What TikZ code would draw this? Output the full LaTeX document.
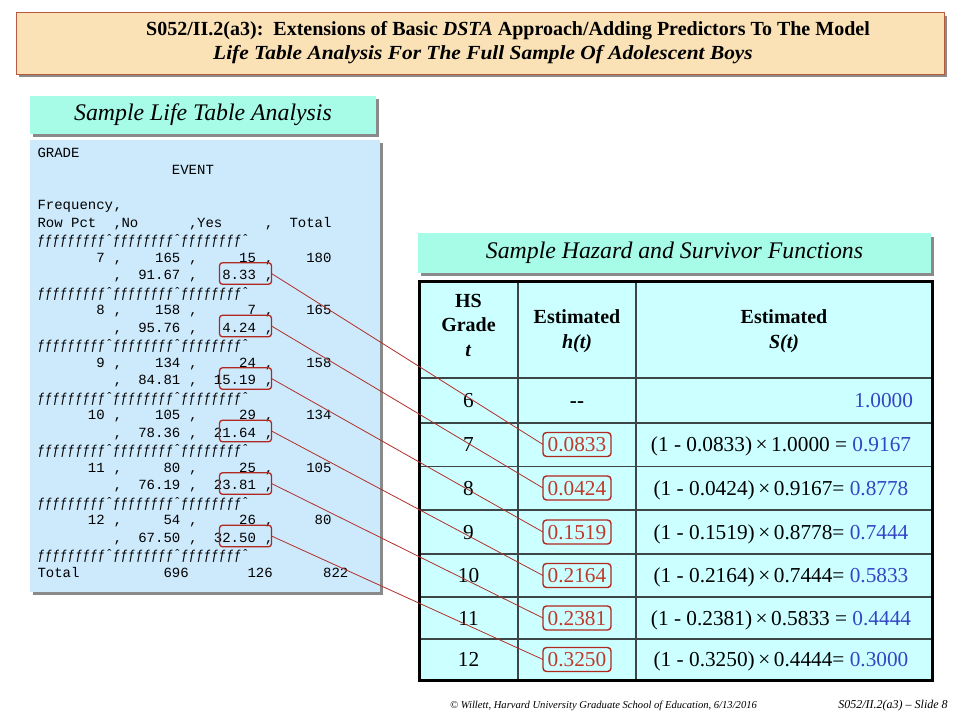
\documentclass[tikz,border=0pt]{standalone}
\usepackage{fontspec}
\setmainfont{Liberation Serif}
\setmonofont{Liberation Mono}
\definecolor{titlefill}{HTML}{FAE2B6}
\definecolor{titleborder}{HTML}{B85A40}
\definecolor{aquafill}{HTML}{A6FCE6}
\definecolor{panelfill}{HTML}{CDE9FC}
\definecolor{tablefill}{HTML}{CCFFFF}
\definecolor{shadowgray}{HTML}{8A8A8A}
\definecolor{hred}{HTML}{C03A2B}
\definecolor{boxred}{HTML}{B0281E}
\definecolor{linkred}{HTML}{B0302A}
\definecolor{sblue}{HTML}{3546C4}
\definecolor{gridgray}{HTML}{3C4646}
\begin{document}
\begin{tikzpicture}[x=1pt,y=-1pt,
  every node/.style={inner sep=0pt, outer sep=0pt},
  sas/.style={anchor=base west, font=\ttfamily\fontsize{14}{17}\selectfont},
  lbox/.style={draw=boxred, line width=1.3pt, rounded corners=3pt, minimum width=52pt, minimum height=21.5pt},
  hbox/.style={draw=boxred, line width=1.4pt, rounded corners=3.5pt, minimum width=68pt, minimum height=24pt, text=hred, font=\fontsize{21.3}{24}\selectfont, text height=14pt, text depth=0pt},
  cell/.style={font=\fontsize{21.3}{24}\selectfont, text height=14pt, text depth=0pt},
  hdr/.style={font=\bfseries\fontsize{20}{24.5}\selectfont, align=center},
  link/.style={draw=linkred, line width=0.8pt},
  gridline/.style={draw=gridgray, line width=1.2pt},
  fline/.style={sas}]
\useasboundingbox (0,0) rectangle (960,720);
\fill[white] (0,0) rectangle (960,720);

% ---- title
\fill[shadowgray] (19,16) rectangle (947,77);
\node[draw=titleborder, fill=titlefill, line width=1pt, minimum width=928pt, minimum height=61.5pt, anchor=north west] (titlebox) at (16,12.5) {};
\node[font=\bfseries\fontsize{20}{24}\selectfont] (title1) at (508,31) {S052/II.2(a3):\ \ Extensions of Basic \textit{DSTA} Approach/Adding Predictors To The Model};
\node[font=\bfseries\itshape\fontsize{20}{24}\selectfont] (title2) at (483,55) {\scalebox{1.07}[1]{Life Table Analysis For The Full Sample Of Adolescent Boys}};

% ---- left heading
\fill[shadowgray] (33,99) rectangle (379,137);
\node[fill=aquafill, minimum width=346pt, minimum height=38pt, anchor=north west] (lhead) at (29.5,95.5) {};
\node[font=\itshape\fontsize{23.8}{28}\selectfont] (lheadtext) at (203,115) {Sample Life Table Analysis};

% ---- left panel
\fill[shadowgray] (33,143) rectangle (383,595);
\node[fill=panelfill, minimum width=350pt, minimum height=452pt, anchor=north west] (panel) at (29.5,139.5) {};

\node[sas] (s0) at (37.5,157) {GRADE};
\node[sas] (s1) at (37.5,174.5) {~~~~~~~~~~~~~~~~EVENT};
\node[sas] (s3) at (37.5,209.5) {Frequency‚};
\node[sas] (s4) at (37.5,227) {Row~Pct~~‚No~~~~~~‚Yes~~~~~‚~~Total};
\node[fline] (s5) at (37.5,244.5) {\scalebox{0.9}[1]{ƒƒƒƒƒƒƒƒƒˆƒƒƒƒƒƒƒƒˆƒƒƒƒƒƒƒƒˆ}};
\node[sas] (s6) at (37.5,262) {~~~~~~~7~‚~~~~165~‚~~~~~15~‚~~~~180};
\node[sas] (s7) at (37.5,279.5) {~~~~~~~~~‚~~91.67~‚~~~8.33~‚};
\node[fline] (s8) at (37.5,297) {\scalebox{0.9}[1]{ƒƒƒƒƒƒƒƒƒˆƒƒƒƒƒƒƒƒˆƒƒƒƒƒƒƒƒˆ}};
\node[sas] (s9) at (37.5,314.5) {~~~~~~~8~‚~~~~158~‚~~~~~~7~‚~~~~165};
\node[sas] (s10) at (37.5,332) {~~~~~~~~~‚~~95.76~‚~~~4.24~‚};
\node[fline] (s11) at (37.5,349.5) {\scalebox{0.9}[1]{ƒƒƒƒƒƒƒƒƒˆƒƒƒƒƒƒƒƒˆƒƒƒƒƒƒƒƒˆ}};
\node[sas] (s12) at (37.5,367) {~~~~~~~9~‚~~~~134~‚~~~~~24~‚~~~~158};
\node[sas] (s13) at (37.5,384.5) {~~~~~~~~~‚~~84.81~‚~~15.19~‚};
\node[fline] (s14) at (37.5,402) {\scalebox{0.9}[1]{ƒƒƒƒƒƒƒƒƒˆƒƒƒƒƒƒƒƒˆƒƒƒƒƒƒƒƒˆ}};
\node[sas] (s15) at (37.5,419.5) {~~~~~~10~‚~~~~105~‚~~~~~29~‚~~~~134};
\node[sas] (s16) at (37.5,437) {~~~~~~~~~‚~~78.36~‚~~21.64~‚};
\node[fline] (s17) at (37.5,454.5) {\scalebox{0.9}[1]{ƒƒƒƒƒƒƒƒƒˆƒƒƒƒƒƒƒƒˆƒƒƒƒƒƒƒƒˆ}};
\node[sas] (s18) at (37.5,472) {~~~~~~11~‚~~~~~80~‚~~~~~25~‚~~~~105};
\node[sas] (s19) at (37.5,489.5) {~~~~~~~~~‚~~76.19~‚~~23.81~‚};
\node[fline] (s20) at (37.5,507) {\scalebox{0.9}[1]{ƒƒƒƒƒƒƒƒƒˆƒƒƒƒƒƒƒƒˆƒƒƒƒƒƒƒƒˆ}};
\node[sas] (s21) at (37.5,524.5) {~~~~~~12~‚~~~~~54~‚~~~~~26~‚~~~~~80};
\node[sas] (s22) at (37.5,542) {~~~~~~~~~‚~~67.50~‚~~32.50~‚};
\node[fline] (s23) at (37.5,559.5) {\scalebox{0.9}[1]{ƒƒƒƒƒƒƒƒƒˆƒƒƒƒƒƒƒƒˆƒƒƒƒƒƒƒƒˆ}};
\node[sas] (s24) at (37.5,577) {Total~~~~~~~~~~696~~~~~~~126~~~~~~822};

\node[lbox] (l7) at (245.5,273.5) {};
\node[lbox] (l8) at (245.5,326) {};
\node[lbox] (l9) at (245.5,378.5) {};
\node[lbox] (l10) at (245.5,431) {};
\node[lbox] (l11) at (245.5,483.5) {};
\node[lbox] (l12) at (245.5,536) {};

% ---- right heading
\fill[shadowgray] (421,236.5) rectangle (933.5,276);
\node[fill=aquafill, minimum width=512.5pt, minimum height=39.5pt, anchor=north west] (rhead) at (418,233) {};
\node[font=\itshape\fontsize{23.8}{28}\selectfont] (rheadtext) at (674.5,253) {Sample Hazard and Survivor Functions};

% ---- table
\node[fill=tablefill, minimum width=513pt, minimum height=399pt, anchor=north west] (table) at (419.5,281) {};
\draw[gridline] (419.5,378) -- (932.5,378);
\draw[gridline] (419.5,423) -- (932.5,423);
\draw[gridline] (419.5,466.5) -- (932.5,466.5);
\draw[gridline] (419.5,510) -- (932.5,510);
\draw[gridline] (419.5,554) -- (932.5,554);
\draw[gridline] (419.5,597) -- (932.5,597);
\draw[gridline] (419.5,639) -- (932.5,639);
\draw[gridline] (518,281) -- (518,680);
\draw[gridline] (636,281) -- (636,680);
\draw[line width=3pt] (419.5,281) rectangle (932.5,680);

\node[hdr] (h1) at (468.5,325) {HS\\Grade\\\textit{t}};
\node[hdr] (h2) at (577,331) {Estimated\\\textit{h(t)}};
\node[hdr] (h3) at (784,331) {Estimated\\\textit{S(t)}};

\node[cell] (g6) at (468.5,400.5) {6};
\node[cell] (g7) at (468.5,444.5) {7};
\node[cell] (g8) at (468.5,488) {8};
\node[cell] (g9) at (468.5,532) {9};
\node[cell] (g10) at (468.5,575.5) {10};
\node[cell] (g11) at (468.5,618) {11};
\node[cell] (g12) at (468.5,659.5) {12};

\node[cell, font=\bfseries\fontsize{21}{24}\selectfont] (e6) at (577,400.5) {-\kern0.5pt-};
\node[hbox] (e7) at (577,444.5) {0.0833};
\node[hbox] (e8) at (577,488) {0.0424};
\node[hbox] (e9) at (577,532) {0.1519};
\node[hbox] (e10) at (577,575.5) {0.2164};
\node[hbox] (e11) at (577,618) {0.2381};
\node[hbox] (e12) at (577,659.5) {0.3250};

\node[cell, anchor=east, text=sblue] (s6v) at (913,400.5) {1.0000};
\node[cell] (sv7) at (781,444.5) {(1 - 0.0833)\,×\,1.0000 = \textcolor{sblue}{0.9167}};
\node[cell] (sv8) at (781,488) {(1 - 0.0424)\,×\,0.9167= \textcolor{sblue}{0.8778}};
\node[cell] (sv9) at (781,532) {(1 - 0.1519)\,×\,0.8778= \textcolor{sblue}{0.7444}};
\node[cell] (sv10) at (781,575.5) {(1 - 0.2164)\,×\,0.7444= \textcolor{sblue}{0.5833}};
\node[cell] (sv11) at (781,618) {(1 - 0.2381)\,×\,0.5833 = \textcolor{sblue}{0.4444}};
\node[cell] (sv12) at (781,659.5) {(1 - 0.3250)\,×\,0.4444= \textcolor{sblue}{0.3000}};

% ---- connectors
\draw[link] (l7.east) -- (e7.west);
\draw[link] (l8.east) -- (e8.west);
\draw[link] (l9.east) -- (e9.west);
\draw[link] (l10.east) -- (e10.west);
\draw[link] (l11.east) -- (e11.west);
\draw[link] (l12.east) -- (e12.west);

% ---- footer
\node[font=\itshape\fontsize{10.6}{13}\selectfont] (foot1) at (603.5,706) {© Willett, Harvard University Graduate School of Education, 6/13/2016};
\node[font=\itshape\fontsize{12}{13}\selectfont] (foot2) at (893,706) {S052/II.2(a3) – Slide 8};
\end{tikzpicture}
\end{document}
